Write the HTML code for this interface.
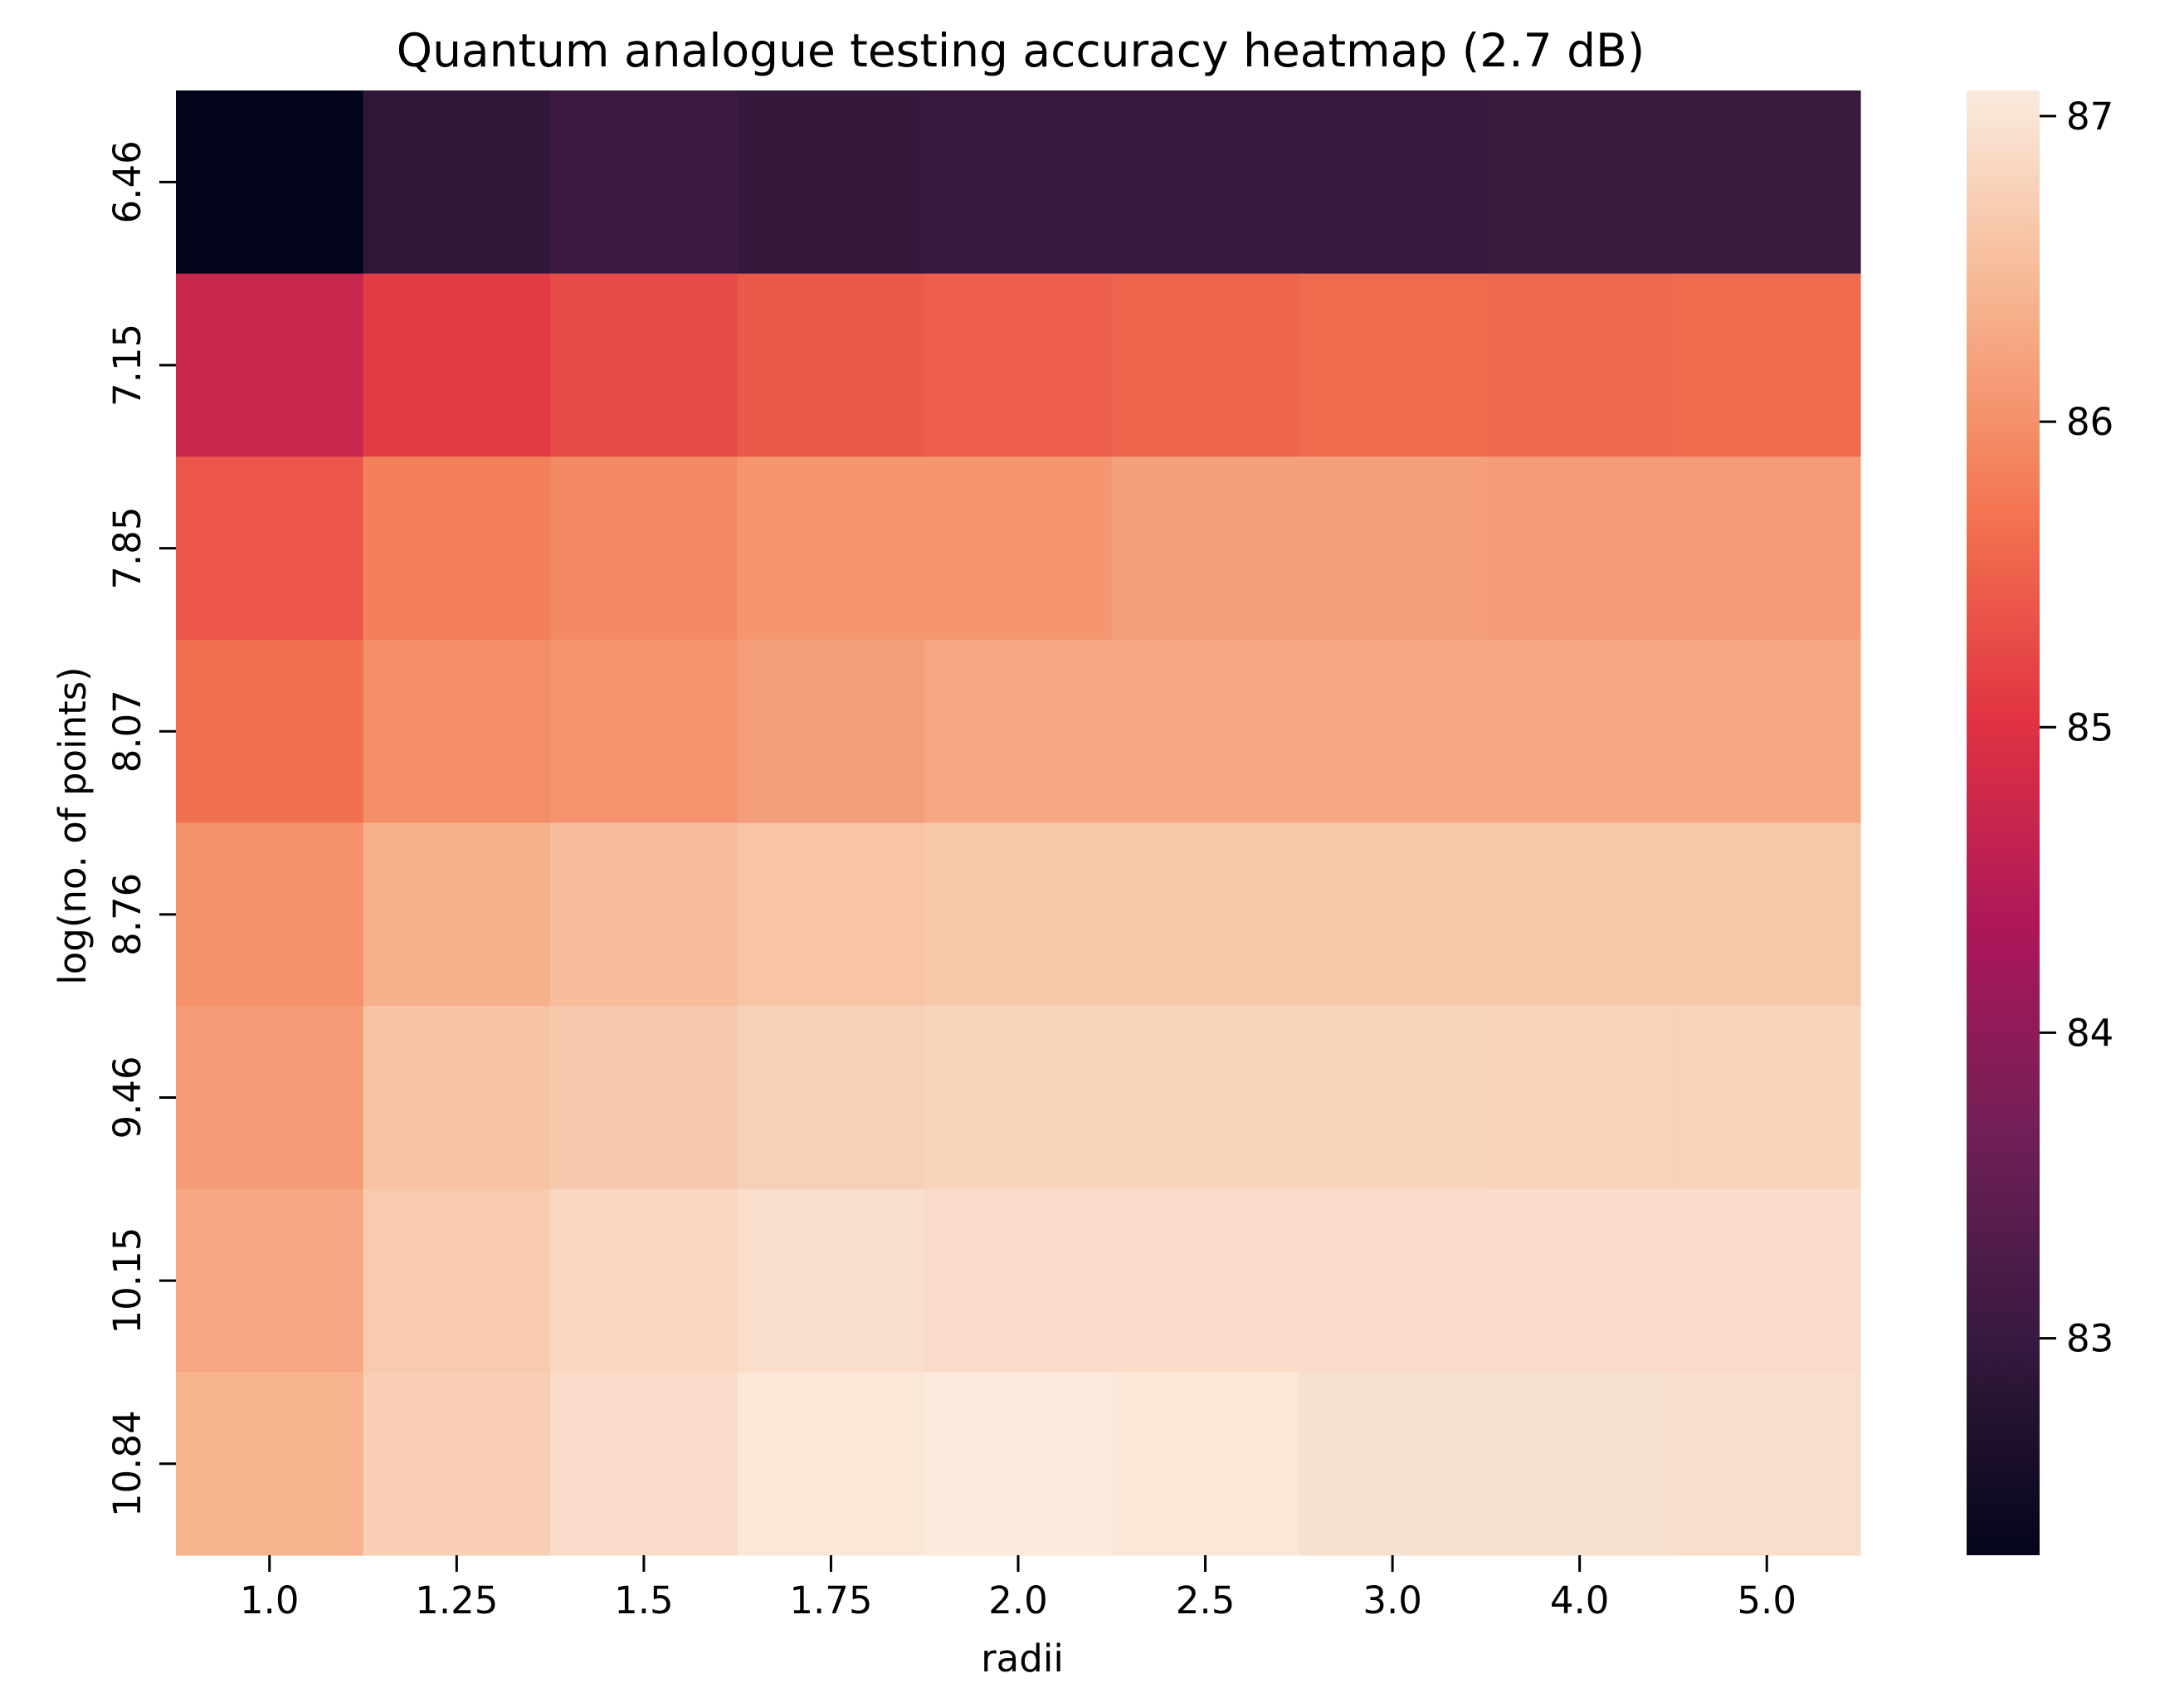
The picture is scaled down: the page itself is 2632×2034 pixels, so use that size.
<!DOCTYPE html>
<html><head><meta charset="utf-8"><style>
html,body{margin:0;padding:0;background:#fff;}
svg{display:block;font-family:"DejaVu Sans","Liberation Sans",sans-serif;}
</style></head><body>
<svg id="chart" width="2632" height="2034" viewBox="0 0 2632 2034" xmlns="http://www.w3.org/2000/svg">
<defs>
<linearGradient id="rocket" x1="0" y1="1" x2="0" y2="0">
<stop offset="0" stop-color="#03051a"/>
<stop offset="0.1429" stop-color="#35193e"/>
<stop offset="0.2857" stop-color="#701f57"/>
<stop offset="0.4286" stop-color="#ad1759"/>
<stop offset="0.5714" stop-color="#e13342"/>
<stop offset="0.7143" stop-color="#f37651"/>
<stop offset="0.8571" stop-color="#f6b48f"/>
<stop offset="1" stop-color="#faebdd"/>
</linearGradient>
</defs>
<text x="1230" y="80" text-anchor="middle" font-size="55" fill="#000">Quantum analogue testing accuracy heatmap (2.7 dB)</text>
<g id="cells"></g>
<g id="xaxis"></g>
<g id="yaxis"></g>
<text x="1232" y="2014" text-anchor="middle" font-size="45" fill="#000">radii</text>
<text transform="translate(103,995) rotate(-90)" text-anchor="middle" font-size="45" fill="#000">log(no. of points)</text>
<rect x="2370" y="109" width="88" height="1765" fill="url(#rocket)"/>
<g id="cbar"></g>
</svg>
<script>
const radii = ["1.0","1.25","1.5","1.75","2.0","2.5","3.0","4.0","5.0"];
const logPoints = ["6.46","7.15","7.85","8.07","8.76","9.46","10.15","10.84"];
const row646 = [82.29,82.90,83.07,82.96,83.00,83.00,83.00,83.04,83.04];
const row715 = [84.73,85.12,85.27,85.42,85.47,85.53,85.60,85.58,85.60];
const row785 = [85.40,85.82,85.93,86.07,86.07,86.17,86.17,86.13,86.13];
const row807 = [85.65,85.98,86.03,86.17,86.27,86.27,86.27,86.27,86.27];
const row876 = [86.00,86.36,86.51,86.60,86.63,86.63,86.63,86.63,86.63];
const row946 = [86.13,86.58,86.65,86.75,86.80,86.80,86.80,86.77,86.77];
const row1015 = [86.27,86.68,86.82,86.92,86.89,86.89,86.89,86.89,86.89];
const row1084 = [86.40,86.72,86.89,87.04,87.08,87.04,86.96,86.96,86.92];
const cbarTicks = [83,84,85,86,87];
const vmin = 82.29, vmax = 87.084;

const rows = [row646,row715,row785,row807,row876,row946,row1015,row1084];
const NS = "http://www.w3.org/2000/svg";
const X0 = 212, X1 = 2242, Y0 = 109, Y1 = 1874;
const cw = (X1 - X0) / radii.length, ch = (Y1 - Y0) / logPoints.length;
const xPos = i => X0 + i * cw;
const yPos = j => Y0 + j * ch;
const cbY = v => Y1 - (v - vmin) / (vmax - vmin) * (Y1 - Y0);

const stops = [[0,[3,5,26]],[0.1429,[53,25,62]],[0.2857,[112,31,87]],[0.4286,[173,23,89]],[0.5714,[225,51,66]],[0.7143,[243,118,81]],[0.8571,[246,180,143]],[1,[250,235,221]]];
function rocket(v){
  let t = Math.max(0, Math.min(1, (v - vmin) / (vmax - vmin)));
  for (let k = 0; k < stops.length - 1; k++) {
    const [a, ca] = stops[k], [b, cb] = stops[k+1];
    if (t <= b) { const f = (t - a) / (b - a);
      return "rgb(" + ca.map((c, i) => Math.round(c + (cb[i] - c) * f)).join(",") + ")"; }
  }
  return "rgb(250,235,221)";
}
function mk(tag, attrs, parent){ const e = document.createElementNS(NS, tag); for (const k in attrs) e.setAttribute(k, attrs[k]); parent.appendChild(e); return e; }

const cells = document.getElementById("cells");
rows.forEach((r, j) => r.forEach((v, i) => {
  const c = mk("rect", {x: xPos(i), y: yPos(j), width: cw + 0.6, height: ch + 0.6, fill: rocket(v)}, cells);
  
  
}));

const xa = document.getElementById("xaxis");
radii.forEach((lab, i) => {
  const cx = xPos(i) + cw / 2;
  const t = mk("line", {x1: cx, x2: cx, y1: Y1, y2: Y1 + 20, stroke: "#000", "stroke-width": 3}, xa);
  
  
  const tx = mk("text", {x: cx, y: 1944, "text-anchor": "middle", "font-size": 45}, xa);
  tx.textContent = lab;
  
  
});
const ya = document.getElementById("yaxis");
logPoints.forEach((lab, j) => {
  const cy = yPos(j) + ch / 2;
  const t = mk("line", {x1: X0 - 20, x2: X0, y1: cy, y2: cy, stroke: "#000", "stroke-width": 3}, ya);
  
  
  const tx = mk("text", {transform: "translate(169," + cy + ") rotate(-90)", "text-anchor": "middle", "font-size": 45}, ya);
  tx.textContent = lab;
  
  
});
const cb = document.getElementById("cbar");
cbarTicks.forEach(v => {
  const y = cbY(v);
  const t = mk("line", {x1: 2458, x2: 2478, y1: y, y2: y, stroke: "#000", "stroke-width": 3}, cb);
  
  
  const tx = mk("text", {x: 2490, y: y + 16, "font-size": 45}, cb);
  tx.textContent = String(v);
  
  
});
</script>
</body></html>
